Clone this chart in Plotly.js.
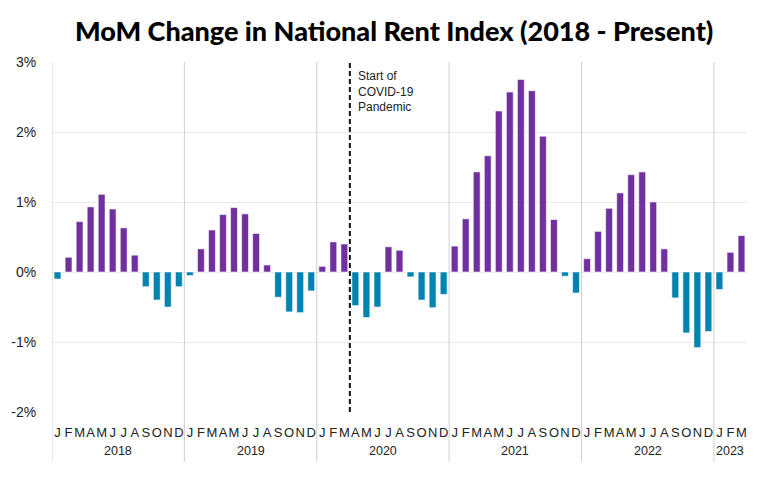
<!DOCTYPE html>
<html>
<head>
<meta charset="utf-8">
<script src="https://cdn.plot.ly/plotly-3.0.1.min.js"></script>
<style>html,body{margin:0;padding:0;background:#fff;}#chart{width:776px;height:478px;}</style>
</head>
<body>
<div id="chart"></div>
<script>
const years = ["2018", "2019", "2020", "2021", "2022", "2023"];
const monthLetters = ["J","F","M","A","M","J","J","A","S","O","N","D"];
const monthsPerYear = [12, 12, 12, 12, 12, 3];
const values2018 = [-0.10, 0.21, 0.72, 0.93, 1.11, 0.90, 0.63, 0.24, -0.21, -0.40, -0.50, -0.21];
const values2019 = [-0.05, 0.33, 0.60, 0.82, 0.92, 0.83, 0.55, 0.10, -0.36, -0.57, -0.58, -0.27];
const values2020 = [0.08, 0.43, 0.40, -0.48, -0.65, -0.50, 0.36, 0.31, -0.07, -0.40, -0.51, -0.32];
const values2021 = [0.37, 0.76, 1.43, 1.66, 2.30, 2.57, 2.75, 2.59, 1.94, 0.75, -0.06, -0.30];
const values2022 = [0.19, 0.58, 0.91, 1.13, 1.39, 1.43, 1.00, 0.33, -0.37, -0.87, -1.08, -0.85];
const values2023 = [-0.25, 0.28, 0.52];
const covidLabel = "Start of<br>COVID-19<br>Pandemic";
const covidYear = "2020", covidMonthIndex = 3; // line drawn before April 2020

const allValues = [].concat(values2018, values2019, values2020, values2021, values2022, values2023);
const xIdx = allValues.map((v, i) => i);
const ticktext = [];
monthsPerYear.forEach(n => { for (let m = 0; m < n; m++) ticktext.push(monthLetters[m]); });
const colors = allValues.map(v => v >= 0 ? "#7030A0" : "#0083B0");

const shapes = [];
const annotations = [];
let start = 0;
const lineBottom = -0.142;
shapes.push({type:"line", xref:"x", yref:"paper", x0:-0.5, x1:-0.5, y0:lineBottom, y1:1, line:{color:"#cfcfcf", width:1}});
years.forEach((y, k) => {
  const n = monthsPerYear[k];
  annotations.push({x: start + (n - 1) / 2, xref:"x", y: -0.11, yref:"paper", text: y, showarrow:false,
    yanchor:"middle", font:{family:"Liberation Sans, Arial, sans-serif", size:12.5, color:"#222"}});
  if (k > 0) shapes.push({type:"line", xref:"x", yref:"paper", x0:start - 0.5, x1:start - 0.5, y0:lineBottom, y1:1, line:{color:"#cfcfcf", width:1}});
  start += n;
});
const covidX = years.indexOf(covidYear) * 12 + covidMonthIndex - 0.5;
shapes.push({type:"line", xref:"x", yref:"paper", x0:covidX, x1:covidX, y0:0, y1:1, line:{color:"#111", width:2, dash:"5px,3px"}});
annotations.push({x: covidX, xref:"x", xshift:6, y:0.985, yref:"paper", xanchor:"left", yanchor:"top", align:"left",
  text: covidLabel, showarrow:false, font:{family:"Liberation Sans, Arial, sans-serif", size:12, color:"#222"}});

const trace = {type:"bar", x:xIdx, y:allValues, width:0.62,
  marker:{color:colors, line:{color:"rgba(255,255,255,0.55)", width:1}}, hoverinfo:"y"};

const layout = {
  width:776, height:478,
  margin:{l:52, r:29, t:62, b:66},
  paper_bgcolor:"#fff", plot_bgcolor:"#fff",
  title:{text:"MoM Change in National Rent Index (2018 - Present)", x:0.508, xanchor:"center", y:0.935, yanchor:"middle",
    font:{family:"Lato, sans-serif", size:27, color:"#000", weight:900}},
  showlegend:false,
  bargap:0.4,
  xaxis:{range:[-0.5, xIdx.length - 0.5], tickvals:xIdx, ticktext:ticktext, showgrid:false, zeroline:false, showline:false,
    ticks:"outside", ticklen:8, tickcolor:"rgba(0,0,0,0)", tickangle:0,
    tickfont:{family:"Liberation Sans, Arial, sans-serif", size:13, color:"#222"}, fixedrange:true},
  yaxis:{range:[-2, 3], showgrid:true, gridcolor:"#e9e9e9", gridwidth:1,
    zeroline:false, showline:false, ticks:"outside", ticklen:12, tickcolor:"rgba(0,0,0,0)",
    tickvals:[-2,-1,0,1,2,3], ticktext:["-2%","-1%","0%","1%","2%","3%"],
    tickfont:{family:"Liberation Sans, Arial, sans-serif", size:14, color:"#222"}, fixedrange:true},
  shapes:shapes, annotations:annotations
};
Plotly.newPlot("chart", [trace], layout, {displayModeBar:false, staticPlot:true});
</script>
</body>
</html>
